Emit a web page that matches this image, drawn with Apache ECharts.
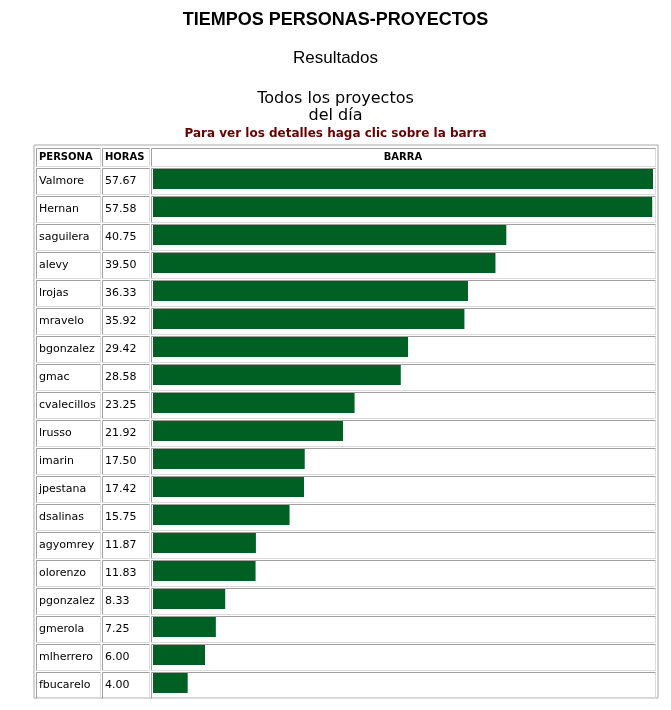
<!DOCTYPE html>
<html>
<head>
<meta charset="utf-8">
<script src="https://cdn.jsdelivr.net/npm/echarts@6/dist/echarts.min.js"></script>
<style>html,body{margin:0;padding:0;background:#fff}#chart{width:671px;height:710px}</style>
</head>
<body>
<div id="chart"></div>
<script>
var personas = ["Valmore","Hernan","saguilera","alevy","lrojas","mravelo","bgonzalez","gmac","cvalecillos","lrusso","imarin","jpestana","dsalinas","agyomrey","olorenzo","pgonzalez","gmerola","mlherrero","fbucarelo"];
var horas = [57.67,57.58,40.75,39.50,36.33,35.92,29.42,28.58,23.25,21.92,17.50,17.42,15.75,11.87,11.83,8.33,7.25,6.00,4.00];
var cabecera = ["PERSONA","HORAS","BARRA"];

var myCharts = echarts.init(document.getElementById("chart"));
// columnas de la tabla
var cols = [[36,64],[102,47],[151,504]];
var rowTop = 168, rowH = 28;
var g = [];
// borde exterior
g.push({type:"rect",shape:{x:34,y:145,width:624,height:553},style:{fill:"#fff",stroke:"#a8a8a8",lineWidth:1}});
function celda(x,y,w,h){
    g.push({type:"rect",shape:{x:x+0.5,y:y+0.5,width:w,height:h},style:{fill:"none",stroke:"#dcdcdc",lineWidth:1}});
    g.push({type:"polyline",shape:{points:[[x+0.5,y+h+0.5],[x+0.5,y+0.5],[x+w+0.5,y+0.5]]},style:{fill:"none",stroke:"#a0a0a0",lineWidth:1}});
}
cabecera.forEach(function(t,i){
    celda(cols[i][0],148,cols[i][1],18);
    g.push({type:"text",x:i==2?cols[i][0]+cols[i][1]/2:cols[i][0]+3,y:157,
        style:{text:t,font:"bold 10px 'DejaVu Sans'",fill:"#000",align:i==2?"center":"left",verticalAlign:"middle"}});
});
personas.forEach(function(p,i){
    var y = rowTop + i*rowH;
    for (var c=0;c<3;c++) celda(cols[c][0],y,cols[c][1],26);
    g.push({type:"text",x:39,y:y+13,style:{text:p,font:"11px 'DejaVu Sans'",fill:"#000",verticalAlign:"middle"}});
    g.push({type:"text",x:105,y:y+13,style:{text:horas[i].toFixed(2),font:"11px 'DejaVu Sans'",fill:"#000",verticalAlign:"middle"}});
});

myCharts.setOption({
    title:[
        {text:"TIEMPOS PERSONAS-PROYECTOS",left:"center",top:6,textStyle:{fontFamily:"Liberation Sans",fontSize:18,fontWeight:"bold",color:"#000"}},
        {text:"Resultados",left:"center",top:45,textStyle:{fontFamily:"Liberation Sans",fontSize:17,fontWeight:"normal",color:"#000"}},
        {text:"Todos los proyectos\ndel día",left:"center",top:85,textStyle:{fontFamily:"DejaVu Sans",fontSize:16,fontWeight:"normal",color:"#000",lineHeight:17}},
        {text:"Para ver los detalles haga clic sobre la barra",left:"center",top:123,textStyle:{fontFamily:"DejaVu Sans",fontSize:12,fontWeight:"bold",color:"#660000"}}
    ],
    graphic:{elements:g},
    grid:{left:153,top:165,width:500,height:rowH*personas.length},
    xAxis:{type:"value",min:0,max:57.67,show:false},
    yAxis:{type:"category",data:personas,inverse:true,show:false},
    series:[{type:"bar",data:horas,barWidth:20,itemStyle:{color:"#006024"},z:10,silent:true}],
    animation:false
});
</script>
</body>
</html>
